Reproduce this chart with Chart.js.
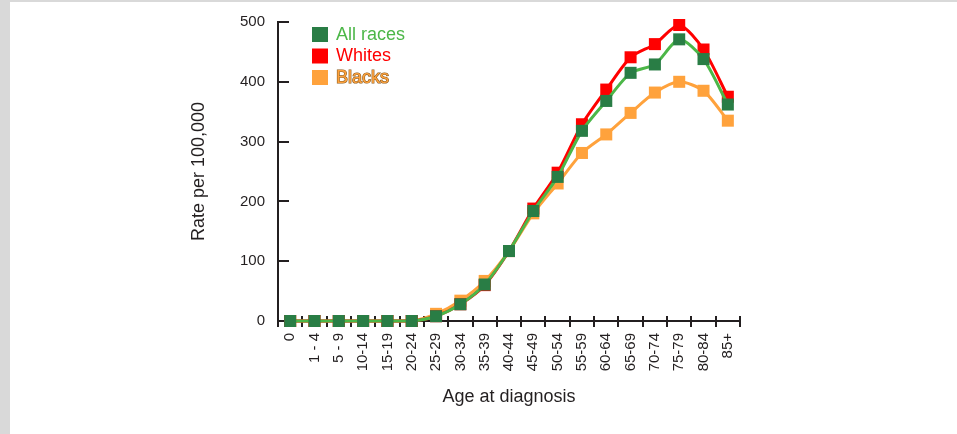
<!DOCTYPE html>
<html>
<head>
<meta charset="utf-8">
<script src="https://cdn.jsdelivr.net/npm/chart.js@4"></script>
<style>
  html, body { margin: 0; padding: 0; background: #fff; }
  #frame {
    position: absolute; left: 0; top: 0; width: 947px; height: 432px;
    border-left: 10px solid #d9d9d9; border-top: 2px solid #d9d9d9; background: #fff;
  }
  #wrap { position: absolute; left: 0; top: 0; width: 957px; height: 434px; }
</style>
</head>
<body>
<div id="frame"></div>
<div id="wrap"><canvas id="rateChart" width="957" height="434"></canvas></div>
<script>
// Categorias (faixas etárias)
const ageGroups = ['0', '1 - 4', '5 - 9', '10-14', '15-19', '20-24', '25-29', '30-34',
    '35-39', '40-44', '45-49', '50-54', '55-59', '60-64', '65-69', '70-74',
    '75-79', '80-84', '85+'];

// Taxas por 100.000
const allRaces = [0, 0, 0, 0, 0, 0, 8, 28, 61, 117, 184, 241, 318, 368, 415, 429, 471, 438, 362];
const whites   = [0, 0, 0, 0, 0, 0, 8, 28, 60, 117, 188, 248, 329, 387, 441, 463, 495, 454, 375];
const blacks   = [0, 0, 0, 0, 0, 0, 12, 34, 67, 117, 180, 230, 281, 312, 348, 382, 400, 385, 335];

const yTicks = [0, 100, 200, 300, 400, 500];

const seriesNames = ['All races', 'Whites', 'Blacks'];

const textColor = '#231f20';
const axisColor = '#231f20';

// marcas de escala: cruzadas no eixo x, para dentro no eixo y
const tickMarks = {
    id: 'tickMarks',
    beforeDatasetsDraw(chart) {
        const ctx = chart.ctx;
        const x = chart.scales.x, y = chart.scales.y;
        const n = ageGroups.length;
        const w = (x.right - x.left) / n;
        const bottom = chart.chartArea.bottom;
        ctx.save();
        ctx.strokeStyle = axisColor;
        ctx.lineWidth = 2;
        ctx.beginPath();
        for (let i = 0; i <= n; i++) {
            const px = Math.round(x.left + i * w);
            ctx.moveTo(px, bottom - 5);
            ctx.lineTo(px, bottom + 6);
        }
        const left = chart.chartArea.left;
        yTicks.forEach(v => {
            const py = Math.round(y.getPixelForValue(v));
            ctx.moveTo(left, py);
            ctx.lineTo(left + 11, py);
        });
        ctx.stroke();
        ctx.restore();
    }
};

// legenda dentro da área do gráfico
const insideLegend = {
    id: 'insideLegend',
    afterDraw(chart) {
        const ctx = chart.ctx;
        const x0 = chart.chartArea.left + 34;
        const y0 = chart.chartArea.top + 13;
        const textColors = ['#4cb748', '#ff0000', '#ffa23c'];
        ctx.save();
        ctx.font = '18px "Liberation Sans", Arial, sans-serif';
        ctx.textBaseline = 'middle';
        chart.data.datasets.forEach((ds, i) => {
            const cy = y0 + i * 21.5;
            ctx.fillStyle = ds.pointBackgroundColor;
            ctx.fillRect(x0, cy - 8, 16, 15);
            if (i === 2) {
                ctx.lineWidth = 1.2;
                ctx.strokeStyle = '#8a5a1e';
                ctx.strokeText(seriesNames[i], x0 + 24, cy);
            }
            ctx.fillStyle = textColors[i];
            ctx.fillText(seriesNames[i], x0 + 24, cy);
        });
        ctx.restore();
    }
};

const data = {
    labels: ageGroups,
    datasets: [
        {
            label: seriesNames[0],
            data: allRaces,
            borderColor: '#4cb748',
            pointBackgroundColor: '#297d45',
            pointBorderWidth: 0,
            borderWidth: 3
        },
        {
            label: seriesNames[1],
            data: whites,
            borderColor: '#ff0000',
            pointBackgroundColor: '#ff0000',
            pointBorderWidth: 0,
            borderWidth: 3
        },
        {
            label: seriesNames[2],
            data: blacks,
            borderColor: '#ffa23c',
            pointBackgroundColor: '#ffa23c',
            pointBorderWidth: 0,
            borderWidth: 3
        }
    ]
};

const config = {
    type: 'line',
    data: data,
    options: {
        responsive: false,
        animation: false,
        clip: false,
        layout: { padding: { left: 180, right: 217, top: 22, bottom: 10 } },
        elements: {
            point: { pointStyle: 'rect', radius: 8.5, hoverRadius: 8.5 },
            line: { tension: 0.25 }
        },
        plugins: {
            legend: { display: false },
            tooltip: { enabled: false }
        },
        scales: {
            x: {
                type: 'category',
                offset: true,
                afterFit: s => { s.height = 103; },
                grid: { display: false, drawTicks: false },
                border: { display: true, color: axisColor, width: 2 },
                ticks: {
                    autoSkip: false,
                    maxRotation: 90,
                    minRotation: 90,
                    padding: 12,
                    color: textColor,
                    font: { family: '"Liberation Sans", Arial, sans-serif', size: 15 }
                },
                title: {
                    display: true,
                    text: 'Age at diagnosis',
                    color: textColor,
                    padding: { top: 0, bottom: 16 },
                    font: { family: '"Liberation Sans", Arial, sans-serif', size: 18 }
                }
            },
            y: {
                min: 0,
                max: 500,
                afterFit: s => { s.width = 98; },
                afterBuildTicks: s => { s.ticks = yTicks.map(v => ({ value: v })); },
                grid: { display: false, drawTicks: false },
                border: { display: true, color: axisColor, width: 2 },
                ticks: {
                    padding: 13,
                    color: textColor,
                    font: { family: '"Liberation Sans", Arial, sans-serif', size: 15 }
                },
                title: {
                    display: true,
                    text: 'Rate per 100,000',
                    color: textColor,
                    padding: { top: 8, bottom: 0 },
                    font: { family: '"Liberation Sans", Arial, sans-serif', size: 18 }
                }
            }
        }
    },
    plugins: [tickMarks, insideLegend]
};

const rateChart = new Chart(document.getElementById('rateChart'), config);
</script>
</body>
</html>
